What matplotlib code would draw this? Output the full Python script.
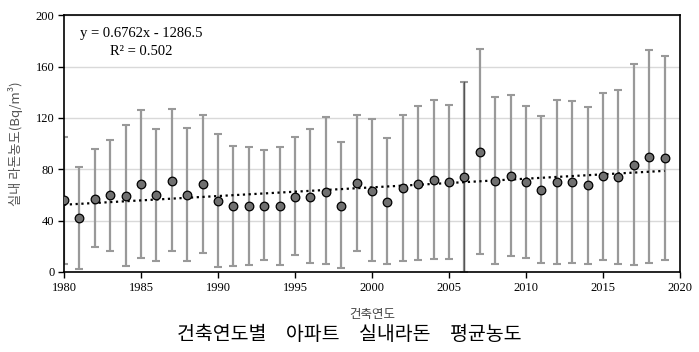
import numpy as np
import matplotlib.pyplot as plt

plt.rcParams['font.family'] = ['Liberation Serif', 'Noto Sans CJK KR', 'DejaVu Sans']

# 건축연도별 평균 농도 (Bq/m3) 와 오차막대 상/하한
years = list(range(1980, 2020))
mean = [55.7, 41.7, 57.0, 59.6, 59.4, 68.2, 59.9, 71.0, 59.6, 68.7,
        55.2, 51.1, 51.1, 51.1, 51.1, 58.1, 58.6, 62.5, 51.6, 69.0,
        63.3, 54.7, 65.1, 68.7, 71.3, 69.7, 73.6, 93.1, 70.8, 74.9,
        69.7, 63.8, 69.7, 69.7, 67.4, 74.4, 73.6, 83.3, 89.7, 88.7]
upper = [105.0, 81.4, 95.5, 103.0, 114.4, 126.3, 111.0, 126.8, 111.8, 122.6,
         107.6, 98.3, 97.6, 94.6, 97.4, 105.0, 111.0, 120.3, 101.2, 122.6,
         118.8, 104.3, 122.6, 128.9, 133.8, 130.0, 148.1, 173.5, 136.2, 138.0,
         128.9, 121.1, 134.3, 133.1, 128.6, 139.5, 141.6, 161.6, 172.8, 168.3]
lower = [6.4, 2.6, 19.4, 16.3, 4.4, 10.6, 8.3, 16.3, 8.3, 14.8,
         3.6, 4.9, 5.4, 9.0, 5.4, 12.9, 7.0, 5.9, 2.8, 16.1,
         8.5, 6.2, 8.5, 9.3, 10.1, 10.1, 0.0, 14.0, 5.9, 12.1,
         11.1, 7.2, 5.9, 7.0, 6.5, 9.6, 6.5, 5.4, 7.2, 9.6]

# 추세선 계수
slope = 0.6762
intercept = -1286.5

x = np.array(years)
m = np.array(mean)
yerr = [m - np.array(lower), np.array(upper) - m]

fig = plt.figure(figsize=(6.99, 3.52), dpi=100)
ax = fig.add_axes([0.0916, 0.2273, 0.8812, 0.7297])

ax.grid(axis='y', color='#d9d9d9', linewidth=1.0, zorder=0)
ax.set_axisbelow(True)

ax.errorbar(x, m, yerr=yerr, fmt='none', ecolor='#999999', elinewidth=1.6,
            capsize=2.6, capthick=1.5, zorder=2)
# 2006년 막대는 축 아래로 잘려 검게 표시됨
i06 = years.index(2006)
ax.plot([2006, 2006], [0, upper[i06]], color='#555555', linewidth=1.0, zorder=2)

ax.plot(x, slope * x + intercept, linestyle=(0, (1, 1.6)), color='black',
        linewidth=1.6, zorder=3)
ax.plot(x, m, 'o', markersize=6.2, markerfacecolor='#707070',
        markeredgecolor='black', markeredgewidth=0.9, zorder=4)

ax.set_xlim(1980, 2020)
ax.set_ylim(0, 200)
ax.set_xticks(range(1980, 2021, 5))
ax.set_yticks(range(0, 201, 40))
ax.tick_params(axis='both', direction='out', length=4, width=1,
               labelsize=9, pad=3)
for s in ax.spines.values():
    s.set_linewidth(1.2)
    s.set_color('black')

ax.text(0.026, 0.93, 'y = 0.6762x - 1286.5', transform=ax.transAxes,
        fontsize=10.5, ha='left', va='center')
ax.text(0.074, 0.86, 'R² = 0.502', transform=ax.transAxes,
        fontsize=10.5, ha='left', va='center')

ax.set_xlabel('건축연도', fontsize=9, color='#444444', labelpad=10,
              family=['Noto Sans CJK KR', 'DejaVu Sans'])
ax.set_ylabel('실내 라돈농도(Bq/m³)', fontsize=9.5, color='#555555', labelpad=9,
              family=['Noto Sans CJK KR', 'DejaVu Sans'])

gap = '\u2002\u2002'
fig.text(0.5, 0.05, gap.join(['건축연도별', '아파트', '실내라돈', '평균농도']),
         ha='center', va='center', fontsize=14,
         family=['Noto Sans CJK KR', 'DejaVu Sans'])

fig.savefig('out.png', dpi=100)
